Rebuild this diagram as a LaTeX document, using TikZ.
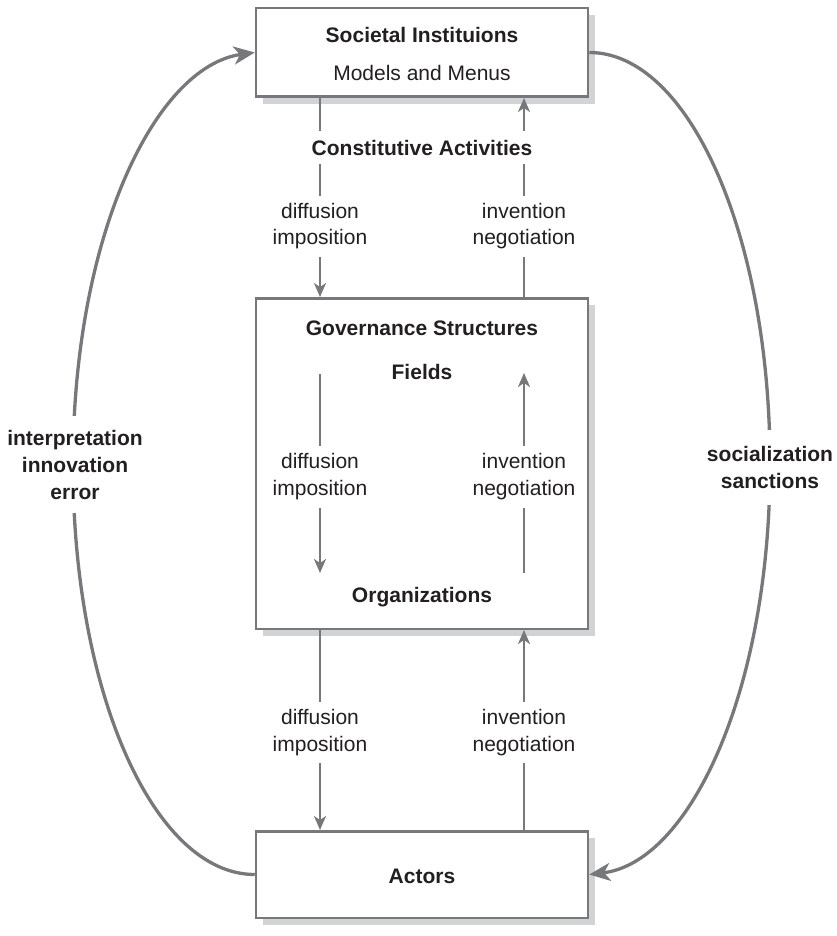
\documentclass[tikz,border=0pt]{standalone}
\usepackage{fontspec}
\setmainfont{Liberation Sans}
\usetikzlibrary{arrows.meta,shadows}
\definecolor{linegray}{HTML}{77787B}
\definecolor{shadowgray}{HTML}{D1D3D4}
\definecolor{txt}{HTML}{231F20}
\begin{document}
\begin{tikzpicture}[x=1pt,y=-1pt,
  every node/.style={font=\fontsize{21}{26.5}\selectfont, text=txt},
  box/.style={draw=linegray, line width=2.5pt, fill=white, minimum width=332pt, inner sep=0pt,
    drop shadow={fill=shadowgray, opacity=1, shadow xshift=7pt, shadow yshift=-7pt}},
  arr/.style={draw=linegray, line width=2.3pt, -{Stealth[length=14pt,width=12pt,inset=4pt]}},
  bigarr/.style={draw=linegray, line width=3.3pt, -{Stealth[length=21pt,width=18pt,inset=6pt]}},
  lbl/.style={fill=white, align=center, inner xsep=3pt, inner ysep=0pt},
  title/.style={font=\fontsize{21}{26.5}\selectfont\bfseries},
  side/.style={fill=white, align=center, inner xsep=2pt, inner ysep=0pt, font=\fontsize{21}{27}\selectfont\bfseries}
]
\useasboundingbox (0,0) rectangle (837,936);

% boxes
\node[box, minimum height=88.5pt] (top) at (422,52.5) {};
\node[box, minimum height=330.5pt] (mid) at (422,463.5) {};
\node[box, minimum height=86.5pt] (act) at (422,874.5) {};

% column coordinates
\coordinate (lx) at (320,0);
\coordinate (rx) at (524,0);
\coordinate (fl) at (320,374);
\coordinate (ol) at (320,573);
\coordinate (fr) at (524,373);
\coordinate (or) at (524,573);
\coordinate (lm) at (73,465);
\coordinate (rm) at (770,464);

% vertical arrows
\draw[arr] (top.south -| lx) -- (mid.north -| lx);
\draw[arr] (mid.north -| rx) -- (top.south -| rx);
\draw[arr] (fl) -- (ol);
\draw[arr] (or) -- (fr);
\draw[arr] (mid.south -| lx) -- (act.north -| lx);
\draw[arr] (act.north -| rx) -- (mid.south -| rx);

% outer arcs
\draw[bigarr] (act.west) .. controls +(-100.5,0) and +(0,228) .. (lm)
   .. controls +(0,-228) and +(-100,14) .. (top.west);
\draw[bigarr] (top.east) .. controls +(100,0) and +(0,-228) .. (rm)
   .. controls +(0,228) and +(100,-12) .. (act.east);

% texts in boxes
\node[title] (si) at (422,35) {Societal Instituions};
\node (mm) at (422,73) {Models and Menus};
\node[title] (gs) at (422,328) {Governance Structures};
\node[title] (fd) at (422,372) {Fields};
\node[title] (og) at (422,597) {Organizations};
\node[title] (ac) at (422,876) {Actors};

% labels on connectors
\node[lbl, title, minimum height=33pt] (ca) at (422,148) {Constitutive Activities};
\node[lbl, minimum height=61pt] (d1) at (320,226) {diffusion\\imposition};
\node[lbl, minimum height=61pt] (i1) at (524,226) {invention\\negotiation};
\node[lbl, minimum height=62pt] (d2) at (320,476.5) {diffusion\\imposition};
\node[lbl, minimum height=62pt] (i2) at (524,476.5) {invention\\negotiation};
\node[lbl, minimum height=61pt] (d3) at (320,732.5) {diffusion\\imposition};
\node[lbl, minimum height=61pt] (i3) at (524,732.5) {invention\\negotiation};
\node[side, minimum height=97pt] (lt) at (75,464.5) {interpretation\\innovation\\error};
\node[side, minimum height=75pt] (rt) at (770,467) {socialization\\sanctions};
\end{tikzpicture}
\end{document}
